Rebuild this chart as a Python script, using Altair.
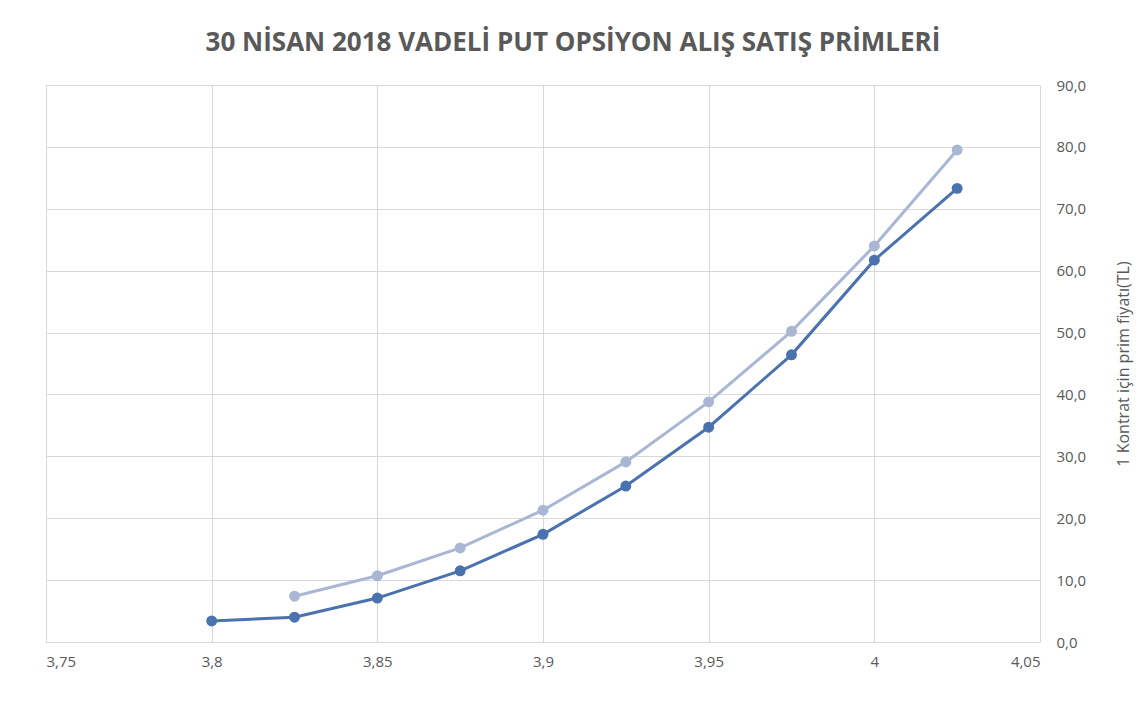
import altair as alt
import pandas as pd

strikes = [3.8, 3.825, 3.85, 3.875, 3.9, 3.925, 3.95, 3.975, 4.0, 4.025]
alis = [3.4, 4.0, 7.1, 11.5, 17.4, 25.2, 34.7, 46.4, 61.7, 73.3]
satis = [None, 7.4, 10.7, 15.2, 21.3, 29.1, 38.8, 50.2, 64.0, 79.5]
x_ticks = [3.75, 3.8, 3.85, 3.9, 3.95, 4.0, 4.05]
y_ticks = [0, 10, 20, 30, 40, 50, 60, 70, 80, 90]

rows = []
for s, a, b in zip(strikes, alis, satis):
    rows.append({"kullanim": s, "prim": a, "seri": "Alış"})
    if b is not None:
        rows.append({"kullanim": s, "prim": b, "seri": "Satış"})
df = pd.DataFrame(rows)

color = alt.Color(
    "seri:N",
    scale=alt.Scale(domain=["Satış", "Alış"], range=["#a9b6d4", "#4a72ae"]),
    legend=None,
)

x = alt.X(
    "kullanim:Q",
    scale=alt.Scale(domain=[3.75, 4.05], nice=False, zero=False),
    axis=alt.Axis(
        values=x_ticks,
        labelExpr="replace(format(datum.value, '.2~f'), '.', ',')",
        title=None,
        grid=True,
        gridColor="#d9d9d9",
        ticks=False,
        domain=False,
        labelPadding=12,
        labelFont="Open Sans",
        labelFontSize=15,
        labelColor="#595959",
    ),
)
y = alt.Y(
    "prim:Q",
    scale=alt.Scale(domain=[0, 90], nice=False),
    axis=alt.Axis(
        orient="right",
        values=y_ticks,
        labelExpr="replace(format(datum.value, '.1f'), '.', ',')",
        title="1 Kontrat için prim fiyatı(TL)",
        titleAngle=270,
        titleFont="Open Sans",
        titleFontWeight="normal",
        titleFontSize=16,
        titleColor="#595959",
        titlePadding=46,
        grid=True,
        gridColor="#d9d9d9",
        ticks=False,
        domain=False,
        labelPadding=16,
        labelFont="Open Sans",
        labelFontSize=15,
        labelColor="#595959",
    ),
)

base = alt.Chart(df).encode(x=x, y=y, color=color, order=alt.Order("kullanim:Q"))
lines = base.mark_line(strokeWidth=3)
points = base.mark_circle(size=120, opacity=1)

chart = (
    alt.layer(lines, points)
    .properties(
        width=994,
        height=557,
        autosize=alt.AutoSizeParams(type="none"),
        padding={"left": 38, "top": 77, "right": 100, "bottom": 50},
        title=alt.TitleParams(
            "30 NİSAN 2018 VADELİ PUT OPSİYON ALIŞ SATIŞ PRİMLERİ",
            font="Open Sans",
            fontSize=26,
            fontWeight="bold",
            color="#595959",
            anchor="middle",
            dx=30,
            offset=22,
        ),
    )
    .configure_view(stroke=None)
    .configure(background="white")
)

chart.save("out.html", embed_options={"renderer": "svg", "actions": False})
